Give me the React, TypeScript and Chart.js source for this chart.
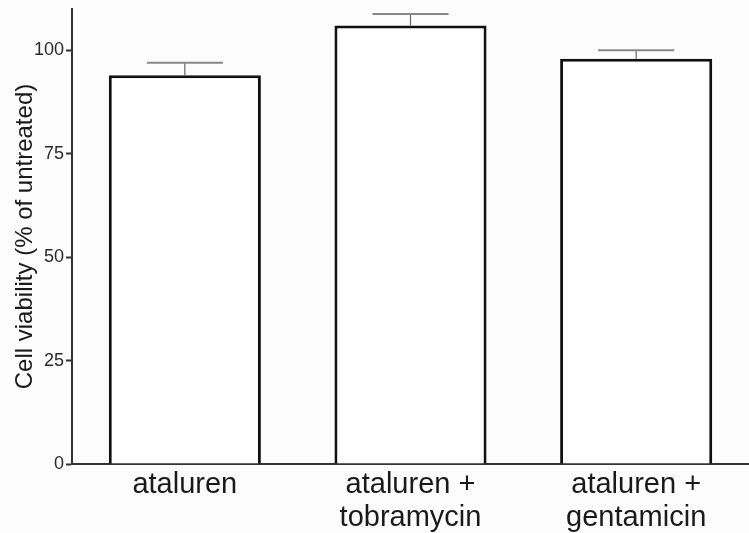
import React, { useEffect, useRef } from "react";
import { Chart, registerables } from "chart.js";

Chart.register(...registerables);

const categories: (string | string[])[] = [
  "ataluren",
  ["ataluren +", "tobramycin"],
  ["ataluren +", "gentamicin"],
];
const viability = [94, 106, 98];
const errorUpper = [3, 2.8, 2];
const yTicks = [0, 25, 50, 75, 100];
const yTitle = "Cell viability (% of untreated)";

const errorBarPlugin = {
  id: "errorBars",
  afterDatasetsDraw(chart: any) {
    const ctx = chart.ctx;
    const meta = chart.getDatasetMeta(0);
    const y = chart.scales.y;
    ctx.save();
    meta.data.forEach((bar: any, i: number) => {
      const x = bar.x;
      const top = y.getPixelForValue(viability[i] + errorUpper[i]);
      const base = y.getPixelForValue(viability[i]);
      const half = bar.width * 0.25;
      ctx.strokeStyle = "#666";
      ctx.lineWidth = 1.2;
      ctx.beginPath();
      ctx.moveTo(x, base);
      ctx.lineTo(x, top);
      ctx.stroke();
      ctx.strokeStyle = "#888";
      ctx.lineWidth = 2;
      ctx.beginPath();
      ctx.moveTo(x - half, top);
      ctx.lineTo(x + half, top);
      ctx.stroke();
    });
    ctx.restore();
  },
};

const bgPlugin = {
  id: "bg",
  beforeDraw(chart: any) {
    const ctx = chart.ctx;
    ctx.save();
    ctx.fillStyle = "#fcfcfc";
    ctx.fillRect(0, 0, chart.width, chart.height);
    ctx.restore();
  },
};

export default function App() {
  const ref = useRef<HTMLCanvasElement>(null);
  useEffect(() => {
    if (!ref.current) return;
    const chart = new Chart(ref.current, {
      type: "bar",
      data: {
        labels: categories as any,
        datasets: [
          {
            data: viability,
            backgroundColor: "#ffffff",
            borderColor: "#111",
            borderWidth: 3,
            barPercentage: 0.674,
            categoryPercentage: 1,
          },
        ],
      },
      plugins: [bgPlugin, errorBarPlugin],
      options: {
        animation: false,
        responsive: true,
        maintainAspectRatio: false,
        layout: { padding: { top: 9, right: 0, left: 0, bottom: 0 } },
        plugins: {
          legend: { display: false },
          tooltip: { enabled: false },
        },
        scales: {
          x: {
            grid: { display: false, drawTicks: false },
            border: { display: true, color: "#333", width: 2 },
            ticks: {
              color: "#1a1a1a",
              font: { family: "Liberation Sans, Arial", size: 29, lineHeight: 1.15 },
              padding: 4,
              maxRotation: 0,
              autoSkip: false,
            },
            afterFit: (s: any) => {
              s.height = 69;
              s.paddingLeft = 0;
              s.paddingRight = 0;
            },
          },
          y: {
            min: 0,
            max: 110,
            grid: {
              drawOnChartArea: false,
              drawTicks: true,
              tickLength: 6,
              tickColor: "#333",
              tickWidth: 2,
            },
            border: { display: true, color: "#333", width: 2 },
            ticks: {
              stepSize: 25,
              color: "#2a2a2a",
              padding: 2,
              font: { family: "Liberation Sans, Arial", size: 18 },
            },
            afterBuildTicks: (s: any) => {
              s.ticks = yTicks.map((v) => ({ value: v }));
            },
            title: {
              display: true,
              text: yTitle,
              color: "#1a1a1a",
              font: { family: "Liberation Sans, Arial", size: 24 },
              padding: { top: 11, bottom: 0 },
            },
            afterFit: (s: any) => {
              s.width = 72;
              s.paddingTop = 0;
              s.paddingBottom = 0;
            },
          },
        },
      },
    });
    return () => chart.destroy();
  }, []);
  return (
    <div style={{ position: "fixed", left: 0, top: 0, width: 749, height: 533 }}>
      <canvas ref={ref} />
    </div>
  );
}
